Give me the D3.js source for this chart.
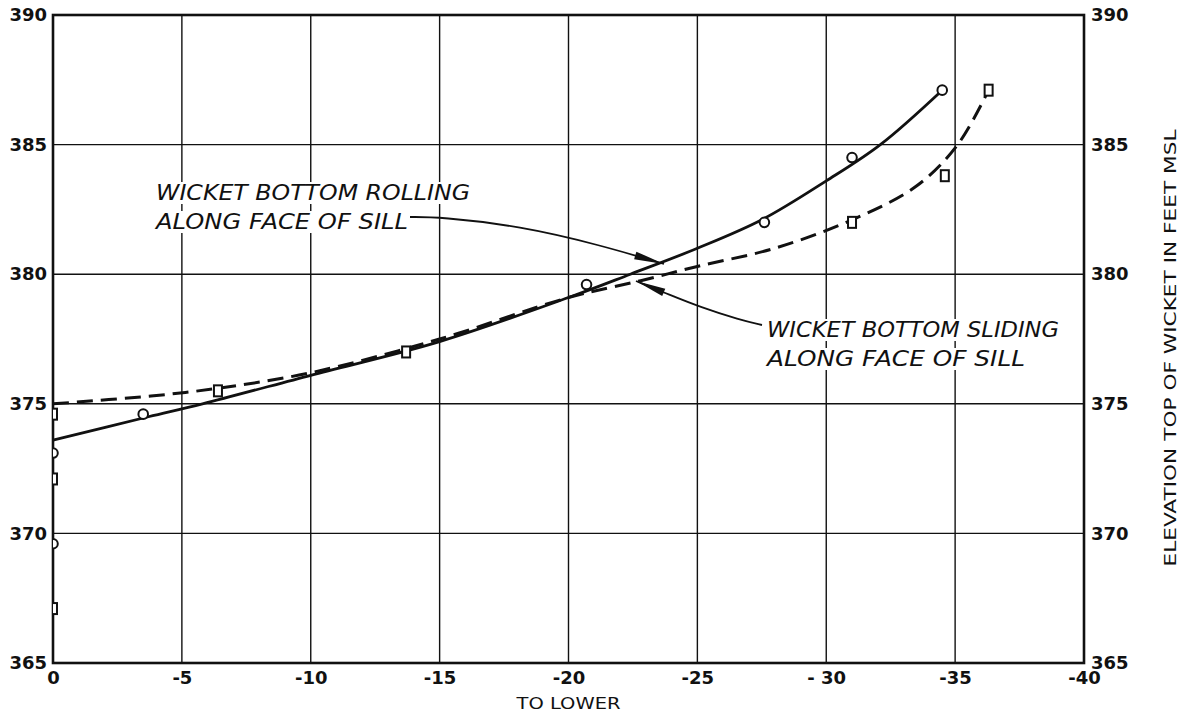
<!DOCTYPE html>
<html><head><meta charset="utf-8">
<script src="https://cdn.jsdelivr.net/npm/d3@7"></script>
<style>
html,body{margin:0;padding:0;background:#fff;}
svg{display:block;}
text{font-family:"DejaVu Sans",sans-serif;fill:#111;}
</style></head>
<body>
<svg id="c" width="1181" height="718"></svg>
<script>
// ---- data ----
const xTicks = [0, -5, -10, -15, -20, -25, -30, -35, -40];
const xTickLabels = ["0", "-5", "-10", "-15", "-20", "-25", "- 30", "-35", "-40"];
const yTicks = [365, 370, 375, 380, 385, 390];

// curve: wicket bottom rolling along face of sill (solid)
const rollingCurveX = [0, -3.7, -5.8, -10, -15, -20, -22.4, -25, -27.5, -30, -32.1, -34.5];
const rollingCurveY = [373.6, 374.5, 375.0, 376.1, 377.4, 379.1, 380.0, 381.0, 382.1, 383.6, 385.0, 387.1];
// curve: wicket bottom sliding along face of sill (dashed)
const slidingCurveX = [0, -3.8, -6.4, -10, -15, -20, -22.8, -25, -28, -31, -33.5, -35.1, -36.3];
const slidingCurveY = [375.0, 375.3, 375.6, 376.2, 377.5, 379.1, 379.75, 380.3, 381.0, 382.1, 383.4, 385.0, 387.1];

// observed points
const rollingPtsX = [0, 0, -3.5, -20.7, -27.6, -31.0, -34.5];
const rollingPtsY = [373.1, 369.6, 374.6, 379.6, 382.0, 384.5, 387.1];
const slidingPtsX = [0, 0, 0, -6.4, -13.7, -31.0, -34.6, -36.3];
const slidingPtsY = [374.6, 372.1, 367.1, 375.5, 377.0, 382.0, 383.8, 387.1];

const rollingLabel = ["WICKET BOTTOM ROLLING", "ALONG FACE OF SILL"];
const slidingLabel = ["WICKET BOTTOM SLIDING", "ALONG FACE OF SILL"];
const xTitle = "TO LOWER";
const yTitle = "ELEVATION TOP OF WICKET IN FEET MSL";

// ---- layout ----
const L = 53, R = 1084, T = 15, B = 663;
const svg = d3.select("#c");
const x = d3.scaleLinear().domain([0, -40]).range([L, R]);
const y = d3.scaleLinear().domain([365, 390]).range([B, T]);

svg.append("defs").append("clipPath").attr("id", "plot")
  .append("rect").attr("x", L).attr("y", T).attr("width", R - L).attr("height", B - T);

// grid
const grid = svg.append("g").attr("stroke", "#111").attr("stroke-width", 1.4);
grid.selectAll(".vx").data(xTicks).join("line")
  .attr("x1", d => x(d)).attr("x2", d => x(d)).attr("y1", T).attr("y2", B);
grid.selectAll(".hy").data(yTicks).join("line")
  .attr("y1", d => y(d)).attr("y2", d => y(d)).attr("x1", L).attr("x2", R);

// axes labels
const fmt = d => xTickLabels[xTicks.indexOf(d)];
const gx = svg.append("g").attr("transform", `translate(0,${B})`)
  .call(d3.axisBottom(x).tickValues(xTicks).tickFormat(fmt).tickSize(0).tickPadding(8));
const gl = svg.append("g").attr("transform", `translate(${L},0)`)
  .call(d3.axisLeft(y).tickValues(yTicks).tickFormat(d3.format("d")).tickSize(0).tickPadding(6));
const gr = svg.append("g").attr("transform", `translate(${R},0)`)
  .call(d3.axisRight(y).tickValues(yTicks).tickFormat(d3.format("d")).tickSize(0).tickPadding(7));
[gx, gl, gr].forEach(g => {
  g.select(".domain").remove();
  g.selectAll("text").attr("font-size", 18).attr("font-weight", "bold")
    .style("font-family", "DejaVu Sans, sans-serif").attr("fill", "#111");
});

// border
svg.append("rect").attr("x", L).attr("y", T).attr("width", R - L).attr("height", B - T)
  .attr("fill", "none").attr("stroke", "#111").attr("stroke-width", 2.6);

// annotation texts with white backgrounds
function label(lines, x0, y0, lens) {
  const g = svg.append("g");
  lines.forEach((s, i) => {
    const t = g.append("text").attr("x", x0).attr("y", y0 + i * 29)
      .attr("font-size", 21).attr("font-style", "italic")
      .attr("textLength", lens[i]).attr("lengthAdjust", "spacingAndGlyphs").text(s);
    const bb = t.node().getBBox();
    g.insert("rect", "text").attr("x", bb.x - 3).attr("y", bb.y + 1)
      .attr("width", bb.width + 6).attr("height", bb.height - 2).attr("fill", "#fff");
  });
}
label(rollingLabel, 156, 200, [314, 252]);
label(slidingLabel, 767, 337, [292, 258]);

// curves
const line = d3.line().x(d => x(d[0])).y(d => y(d[1])).curve(d3.curveCatmullRom.alpha(0.5));
svg.append("path").datum(rollingCurveX.map((v, i) => [v, rollingCurveY[i]]))
  .attr("d", line).attr("fill", "none").attr("stroke", "#111").attr("stroke-width", 2.8);
svg.append("path").datum(slidingCurveX.map((v, i) => [v, slidingCurveY[i]]))
  .attr("d", line).attr("fill", "none").attr("stroke", "#111").attr("stroke-width", 3)
  .attr("stroke-dasharray", "16,8");

// markers
const mk = svg.append("g").attr("clip-path", "url(#plot)");
mk.selectAll("circle").data(rollingPtsX.map((v, i) => [v, rollingPtsY[i]])).join("circle")
  .attr("cx", d => x(d[0])).attr("cy", d => y(d[1])).attr("r", 4.8)
  .attr("fill", "#fff").attr("stroke", "#111").attr("stroke-width", 2);
mk.selectAll("rect").data(slidingPtsX.map((v, i) => [v, slidingPtsY[i]])).join("rect")
  .attr("x", d => x(d[0]) - 4).attr("y", d => y(d[1]) - 5.5).attr("width", 8).attr("height", 11)
  .attr("fill", "#fff").attr("stroke", "#111").attr("stroke-width", 2);

// leader arrows
function arrow(pts) {
  const p = d3.line().curve(d3.curveBasis)(pts);
  svg.append("path").attr("d", p).attr("fill", "none").attr("stroke", "#111").attr("stroke-width", 1.8);
  const a = pts[pts.length - 2], b = pts[pts.length - 1];
  const ang = Math.atan2(b[1] - a[1], b[0] - a[0]);
  const len = 30, w = 4;
  const bx = b[0] - len * Math.cos(ang), by = b[1] - len * Math.sin(ang);
  const nx = -Math.sin(ang) * w, ny = Math.cos(ang) * w;
  svg.append("path").attr("d", `M${b[0]},${b[1]}L${bx + nx},${by + ny}L${bx - nx},${by - ny}Z`)
    .attr("fill", "#111");
}
arrow([[410, 217], [440, 217], [520, 226], [600, 245], [664, 264]]);
arrow([[762, 325], [740, 320], [700, 307], [670, 295], [636, 281]]);

// titles
svg.append("text").attr("x", (L + R) / 2).attr("y", 709).attr("text-anchor", "middle")
  .attr("font-size", 15).attr("textLength", 104).attr("lengthAdjust", "spacingAndGlyphs").text(xTitle);
svg.append("text").attr("transform", "translate(1176,348) rotate(-90)").attr("text-anchor", "middle")
  .attr("font-size", 15).attr("textLength", 437).attr("lengthAdjust", "spacingAndGlyphs").text(yTitle);
</script>
</body></html>
